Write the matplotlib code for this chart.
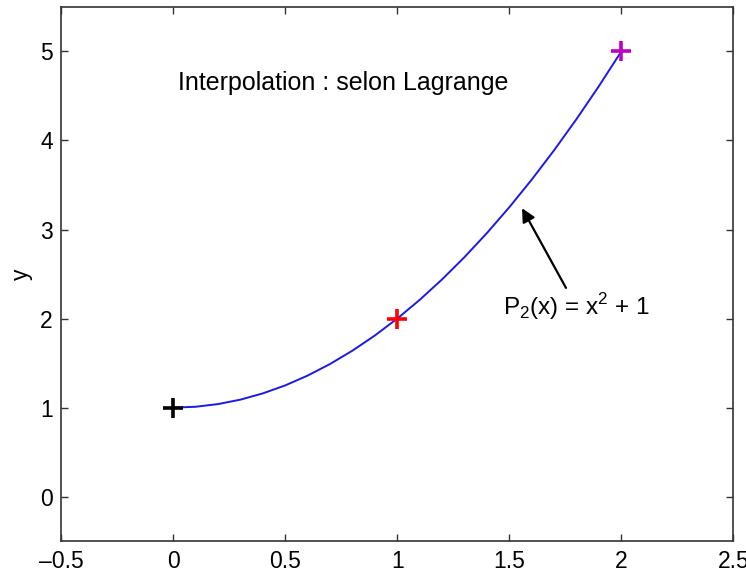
import numpy as np
import matplotlib
matplotlib.use("Agg")
import matplotlib.pyplot as plt

plt.rcParams['font.family'] = ['Liberation Sans', 'DejaVu Sans']
plt.rcParams['mathtext.fontset'] = 'custom'
plt.rcParams['mathtext.rm'] = 'Liberation Sans'

# points d'interpolation
x_pts = [0, 1, 2]
y_pts = [1, 2, 5]
pt_colors = ['k', 'r', 'm']

# courbe
x_curve = [0.0, 0.1, 0.2, 0.3, 0.4, 0.5, 0.6, 0.7, 0.8, 0.9, 1.0,
           1.1, 1.2, 1.3, 1.4, 1.5, 1.6, 1.7, 1.8, 1.9, 2.0]
y_curve = [1.00, 1.01, 1.04, 1.09, 1.16, 1.25, 1.36, 1.49, 1.64, 1.81, 2.00,
           2.21, 2.44, 2.69, 2.96, 3.25, 3.56, 3.89, 4.24, 4.61, 5.00]

xticks = [-0.5, 0, 0.5, 1, 1.5, 2, 2.5]
xticklabels = ['\u20130.5', '0', '0.5', '1', '1.5', '2', '2.5']
yticks = [0, 1, 2, 3, 4, 5]

fig = plt.figure(figsize=(7.46, 5.77), dpi=100)
ax = fig.add_axes([0.082, 0.062, 0.901, 0.926])

ax.plot(x_curve, y_curve, color=(0.1, 0.1, 0.9), linewidth=1.4)
for xp, yp, c in zip(x_pts, y_pts, pt_colors):
    ax.plot(xp, yp, marker='+', color=c, markersize=15, markeredgewidth=2.6)

ax.text(0.02, 4.65, 'Interpolation : selon Lagrange', fontsize=18, va='center')
ax.annotate(r'P$_{\mathrm{2}}$(x) = x$^{\mathrm{2}}$ + 1', xy=(1.557, 3.24),
            xytext=(1.47, 2.14), fontsize=17.5, va='center',
            arrowprops=dict(arrowstyle='-|>', color='k', lw=1.6,
                            shrinkA=0, shrinkB=0, mutation_scale=20),
            )

ax.set_xlim(-0.5, 2.5)
ax.set_ylim(-0.5, 5.5)
ax.set_xticks(xticks)
ax.set_xticklabels(xticklabels)
ax.set_yticks(yticks)
ax.set_ylabel('y', fontsize=16.5, labelpad=5)
ax.tick_params(direction='in', top=True, right=True, labelsize=16.5,
               length=5, width=1, color='#333333', pad=6)
for s in ax.spines.values():
    s.set_color('#333333')
    s.set_linewidth(1.2)

fig.savefig('out.png', dpi=100)
